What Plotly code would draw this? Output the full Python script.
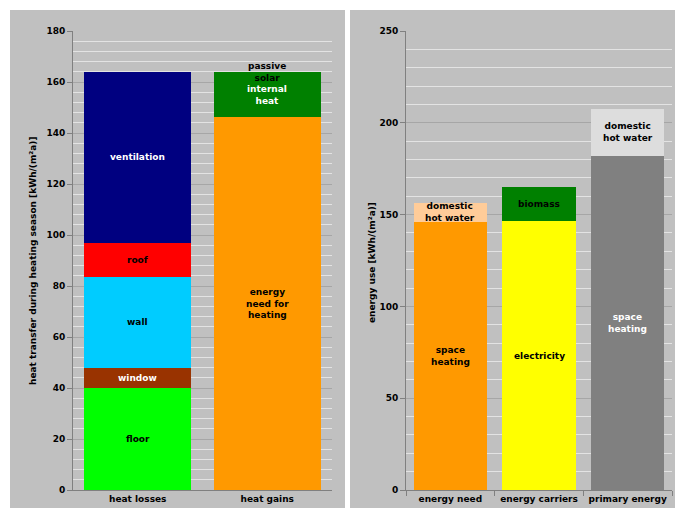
import plotly.graph_objects as go

# ---- data: left chart (heat balance) ----
left_categories = ["heat losses", "heat gains"]
loss_names = ["floor", "window", "wall", "roof", "ventilation"]
loss_labels = ["floor", "window", "wall", "roof", "ventilation"]
loss_values = [40, 8, 35.5, 13.5, 67]
loss_colors = ["#00FF00", "#993300", "#00CCFF", "#FF0000", "#000080"]
loss_text_colors = ["black", "white", "black", "black", "white"]

gain_names = ["energy need for heating", "internal heat", "passive solar"]
gain_labels = ["energy<br>need for<br>heating", "internal<br>heat", "passive<br>solar"]
gain_values = [146.3, 17.2, 0.5]
gain_colors = ["#FF9900", "#008000", "#008000"]
gain_text_colors = ["black", "white", "black"]

# ---- data: right chart (energy use) ----
right_categories = ["energy need", "energy carriers", "primary energy"]
right_segments = {
    "energy need": [("space heating", "space<br>heating", 146, "#FF9900", "black"),
                    ("domestic hot water", "domestic<br>hot water", 10.5, "#FFCC99", "black")],
    "energy carriers": [("electricity", "electricity", 146.5, "#FFFF00", "black"),
                        ("biomass", "biomass", 18.5, "#008000", "black")],
    "primary energy": [("space heating", "space<br>heating", 182, "#808080", "white"),
                       ("domestic hot water", "domestic<br>hot water", 25.5, "#DDDDDD", "black")],
}

left_ticks = [0, 20, 40, 60, 80, 100, 120, 140, 160, 180]
right_ticks = [0, 50, 100, 150, 200, 250]

W, H = 676, 508
FONT = "DejaVu Sans"

fig = go.Figure()
annotations = []

def label(text, xcat, y, color, xref, yref):
    annotations.append(dict(x=xcat, y=y, xref=xref, yref=yref, text=text, showarrow=False,
                            font=dict(family=FONT, size=9, color=color, weight="bold"),
                            xanchor="center", yanchor="middle"))

# left: losses
base = 0
for n, lab, v, c, tc in zip(loss_names, loss_labels, loss_values, loss_colors, loss_text_colors):
    fig.add_trace(go.Bar(x=[left_categories[0]], y=[v], name=n, marker=dict(color=c, line=dict(width=0)),
                         xaxis="x", yaxis="y", showlegend=False, hoverinfo="name+y"))
    label(lab, left_categories[0], base + v / 2, tc, "x", "y")
    base += v

# left: gains
base = 0
for n, lab, v, c, tc in zip(gain_names, gain_labels, gain_values, gain_colors, gain_text_colors):
    fig.add_trace(go.Bar(x=[left_categories[1]], y=[v], name=n, marker=dict(color=c, line=dict(width=0)),
                         xaxis="x", yaxis="y", showlegend=False, hoverinfo="name+y"))
    label(lab, left_categories[1], base + v / 2, tc, "x", "y")
    base += v

# right
for cat in right_categories:
    base = 0
    for n, lab, v, c, tc in right_segments[cat]:
        fig.add_trace(go.Bar(x=[cat], y=[v], name=n, marker=dict(color=c, line=dict(width=0)),
                             xaxis="x2", yaxis="y2", showlegend=False, hoverinfo="name+y"))
        label(lab, cat, base + v / 2, tc, "x2", "y2")
        base += v

# axis titles
annotations.append(dict(x=33 / W, y=(508 - 261) / H, xref="paper", yref="paper", showarrow=False,
                        text="heat transfer during heating season [kWh/(m²a)]", textangle=-90,
                        font=dict(family=FONT, size=9, color="black", weight="bold"),
                        xanchor="center", yanchor="middle"))
annotations.append(dict(x=372 / W, y=(508 - 263) / H, xref="paper", yref="paper", showarrow=False,
                        text="energy use [kWh/(m²a)]", textangle=-90,
                        font=dict(family=FONT, size=9, color="black", weight="bold"),
                        xanchor="center", yanchor="middle"))

ydom = [(508 - 490) / H, (508 - 31) / H]
tickfont = dict(family=FONT, size=9, color="black", weight="bold")

common_y = dict(showline=True, linecolor="#808080", linewidth=1, ticks="outside", ticklen=5,
                tickcolor="#808080", showgrid=True, gridcolor="#A6A6A6", gridwidth=1,
                zeroline=False, tickfont=tickfont, automargin=False)
common_x = dict(showline=True, linecolor="#808080", linewidth=1, showgrid=False, tickfont=tickfont,
                automargin=False)

fig.update_layout(
    width=W, height=H,
    autosize=False,
    margin=dict(l=0, r=0, t=0, b=0, pad=0),
    paper_bgcolor="white",
    plot_bgcolor="white",
    barmode="stack",
    bargap=0.17,
    showlegend=False,
    xaxis=dict(domain=[73 / W, 332 / W], anchor="y", **common_x),
    yaxis=dict(domain=ydom, anchor="x", range=[0, 180], tickvals=left_ticks,
               minor=dict(dtick=4, showgrid=True, gridcolor="#E3E3E3", ticks=""), **common_y),
    xaxis2=dict(domain=[406 / W, 672 / W], anchor="y2", ticks="outside", tickson="boundaries",
                ticklen=5, tickcolor="#808080", **common_x),
    yaxis2=dict(domain=ydom, anchor="x2", range=[0, 250], tickvals=right_ticks,
                minor=dict(dtick=10, showgrid=True, gridcolor="#E3E3E3", ticks=""), **common_y),
    annotations=annotations,
    shapes=[
        dict(type="rect", xref="paper", yref="paper", x0=10 / W, x1=345 / W, y0=0, y1=(508 - 10) / H,
             fillcolor="#C0C0C0", line=dict(width=0), layer="below"),
        dict(type="rect", xref="paper", yref="paper", x0=350 / W, x1=675 / W, y0=0, y1=(508 - 10) / H,
             fillcolor="#C0C0C0", line=dict(width=0), layer="below"),
    ],
)

fig.write_html("out.html", config={"displayModeBar": False},
               post_script="document.body.style.margin='0';document.body.style.overflow='hidden';")
